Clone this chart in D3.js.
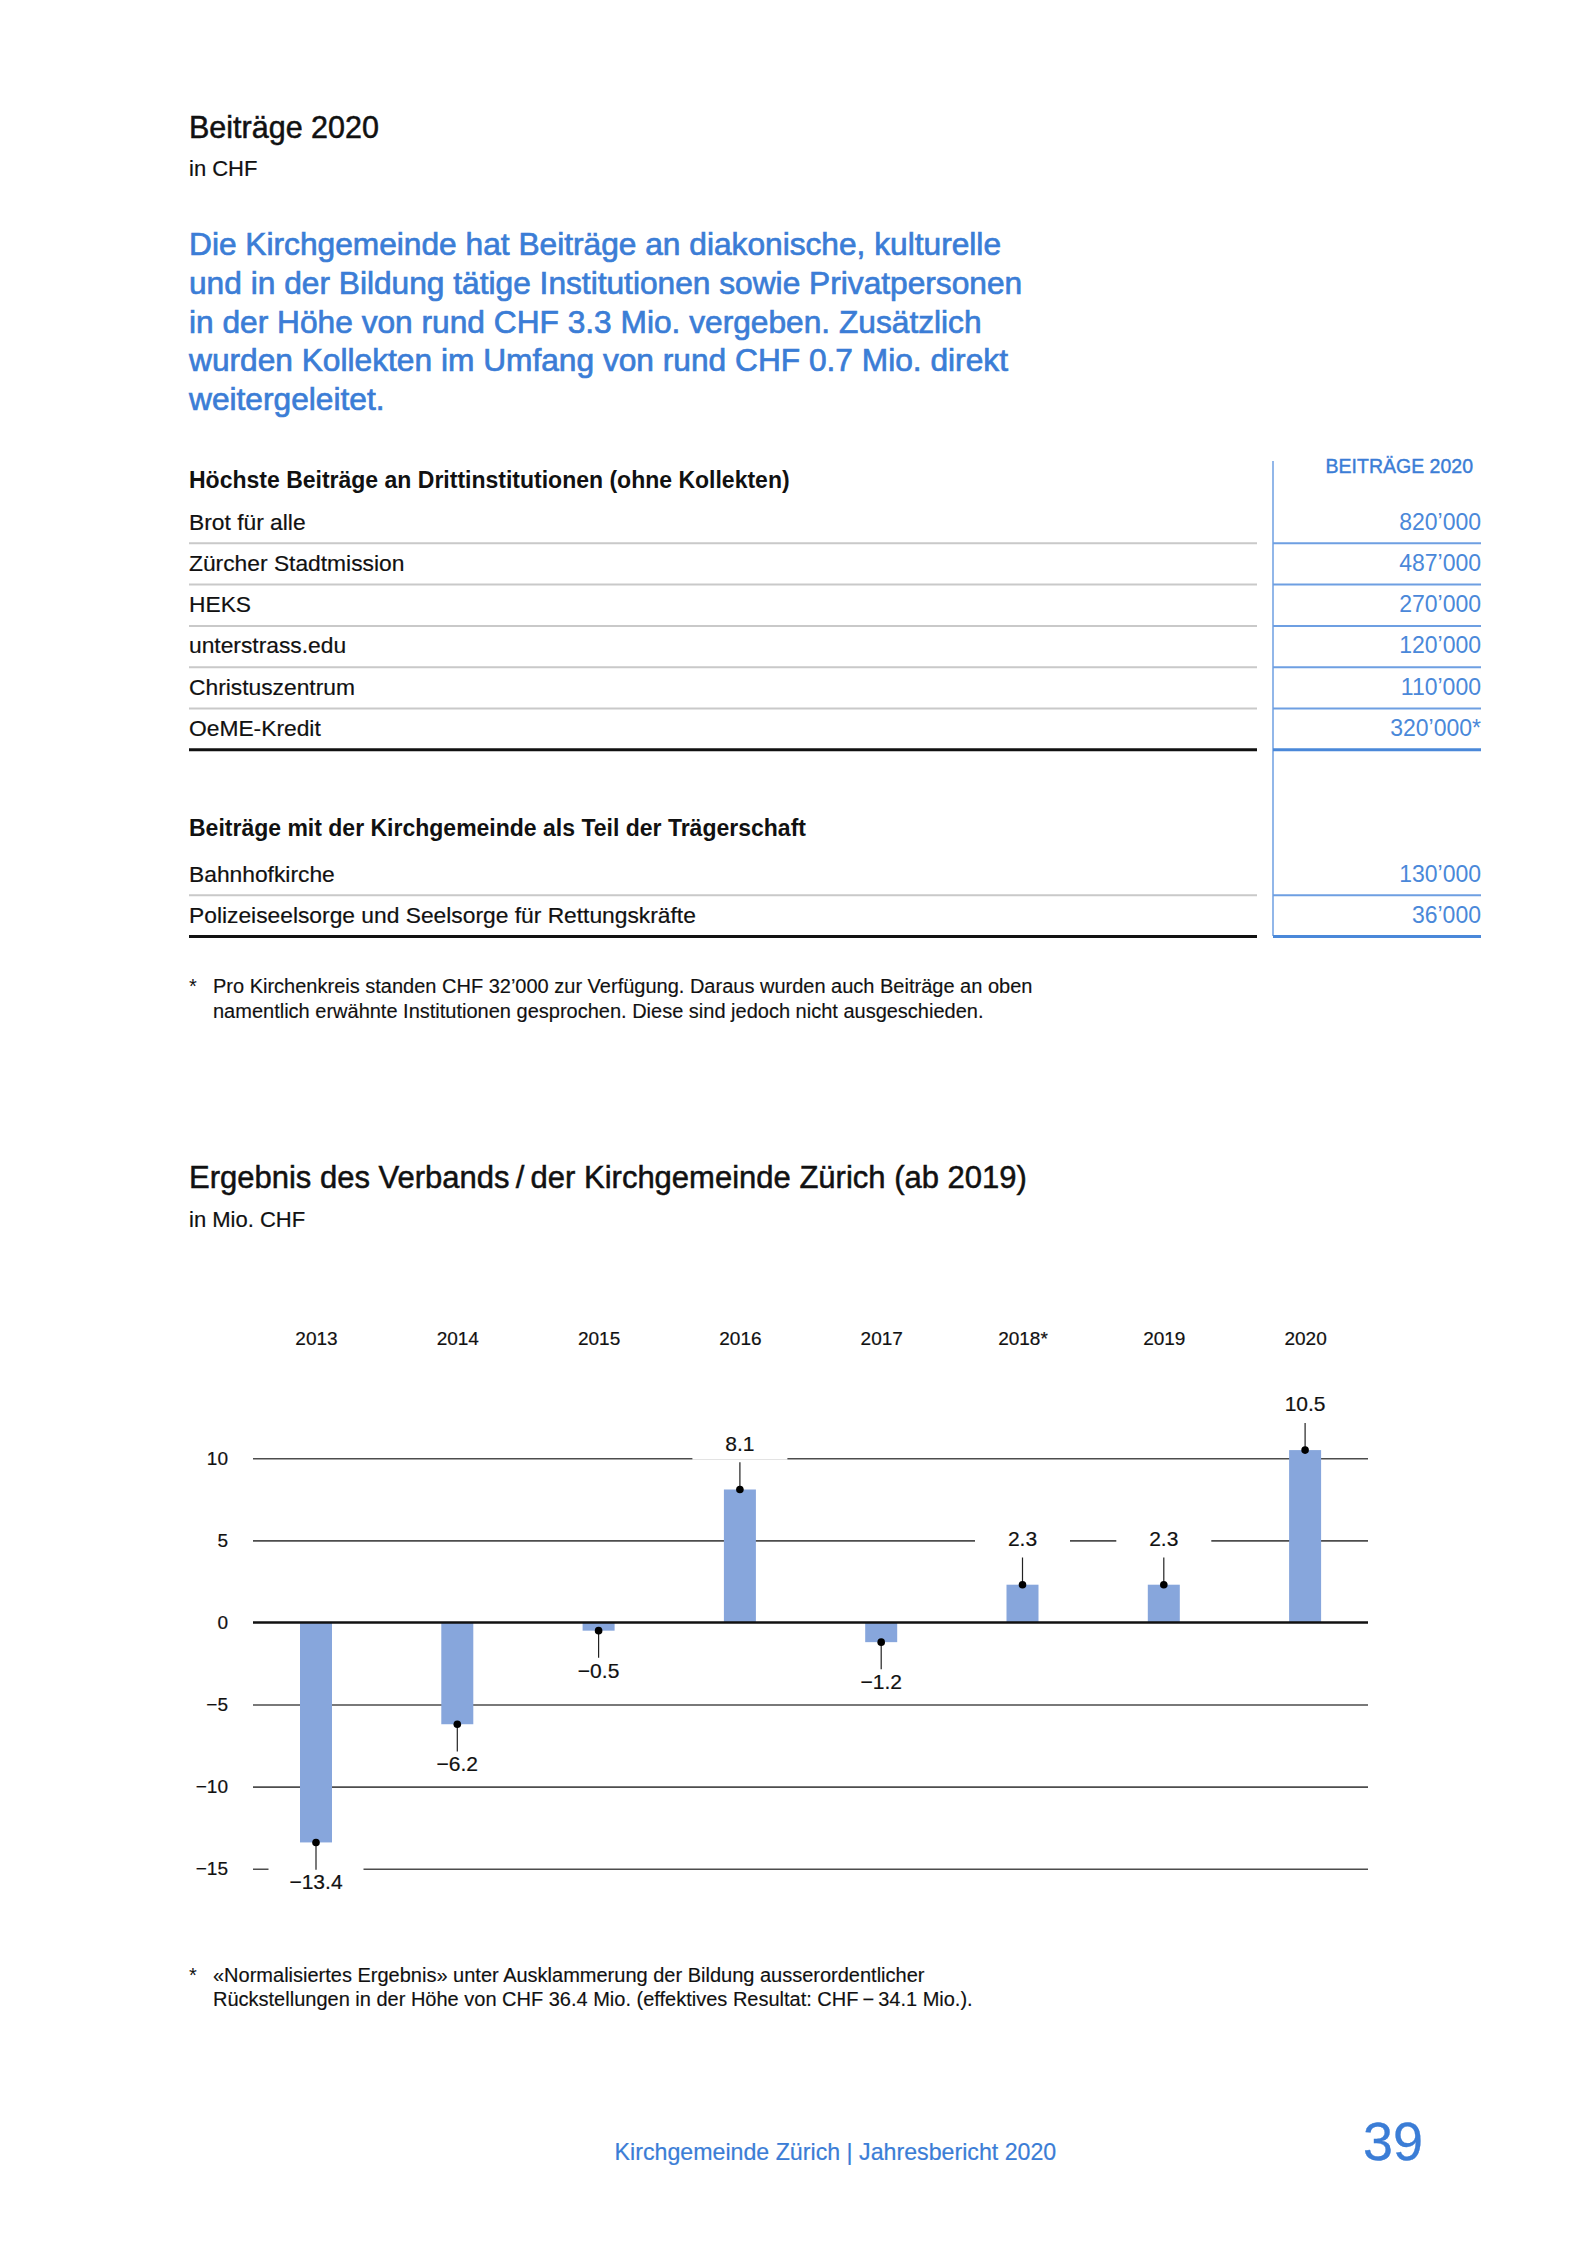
<!DOCTYPE html>
<html>
<head>
<meta charset="utf-8">
<script src="https://cdn.jsdelivr.net/npm/d3@7"></script>
<style>
  html, body { margin: 0; padding: 0; background: #fff; }
  svg { display: block; font-family: "Liberation Sans", Arial, Helvetica, sans-serif; }
</style>
</head>
<body>
<svg id="page" width="1575" height="2244"></svg>
<script>
// ---------------- DATA ----------------
const introLines = [
  "Die Kirchgemeinde hat Beiträge an diakonische, kulturelle",
  "und in der Bildung tätige Institutionen sowie Privatpersonen",
  "in der Höhe von rund CHF 3.3 Mio. vergeben. Zusätzlich",
  "wurden Kollekten im Umfang von rund CHF 0.7 Mio. direkt",
  "weitergeleitet."
];
const thirdPartyNames = ["Brot für alle", "Zürcher Stadtmission", "HEKS", "unterstrass.edu", "Christuszentrum", "OeME-Kredit"];
const thirdPartyValues = [820000, 487000, 270000, 120000, 110000, 320000];
const thirdPartyMarks = ["", "", "", "", "", "*"];
const sponsorNames = ["Bahnhofkirche", "Polizeiseelsorge und Seelsorge für Rettungskräfte"];
const sponsorValues = [130000, 36000];
const footnote1 = [
  "Pro Kirchenkreis standen CHF 32’000 zur Verfügung. Daraus wurden auch Beiträge an oben",
  "namentlich erwähnte Institutionen gesprochen. Diese sind jedoch nicht ausgeschieden."
];
const years = ["2013", "2014", "2015", "2016", "2017", "2018*", "2019", "2020"];
const results = [-13.4, -6.2, -0.5, 8.1, -1.2, 2.3, 2.3, 10.5];
const yTicks = [-15, -10, -5, 0, 5, 10];
const footnote2 = [
  "«Normalisiertes Ergebnis» unter Ausklammerung der Bildung ausserordentlicher",
  "Rückstellungen in der Höhe von CHF 36.4 Mio. (effektives Resultat: CHF\u2009−\u200934.1 Mio.)."
];

// ---------------- STYLE ----------------
const BLUE = "#3b7dd6";
const BLUE_VAL = "#4a88d9";
const BLUE_LINE = "#6e9fe2";
const INK = "#111";
const BAR = "#87a6dc";
const LEFT = 189;

const svg = d3.select("#page");
svg.append("rect").attr("width", 1575).attr("height", 2244).attr("fill", "#fff");

function text(x, y, s, size, opts = {}) {
  const t = svg.append("text")
    .attr("x", x).attr("y", y)
    .attr("font-size", size)
    .attr("fill", opts.fill || INK)
    .attr("font-weight", opts.weight || "normal")
    .attr("text-anchor", opts.anchor || "start")
    .text(s);
  if (opts.stroke) t.attr("stroke", opts.fill || INK).attr("stroke-width", opts.stroke);
  return t;
}

// ---------------- TOP SECTION ----------------
text(LEFT, 138.3, "Beiträge 2020", 30.5, {stroke: 0.5});
text(LEFT, 176, "in CHF", 22, {stroke: 0.2});
svg.append("g").selectAll("text").data(introLines).join("text")
  .attr("x", LEFT).attr("y", (d, i) => 255 + i * 38.8)
  .attr("font-size", 31.7).attr("fill", BLUE)
  .attr("stroke", BLUE).attr("stroke-width", 0.7)
  .text(d => d);

// ---------------- TABLE ----------------
const fmtLocale = d3.formatLocale({decimal: ".", thousands: "’", grouping: [3], currency: ["", ""]});
const fmtCHF = fmtLocale.format(",d");
const LEFT_END = 1257, COL_X = 1273, RIGHT = 1481;

text(LEFT, 488, "Höchste Beiträge an Drittinstitutionen (ohne Kollekten)", 23, {weight: "bold"});
text(1473, 473.3, "BEITRÄGE 2020", 19.5, {fill: BLUE, anchor: "end", stroke: 0.4});

svg.append("line").attr("x1", COL_X).attr("x2", COL_X).attr("y1", 461).attr("y2", 936)
  .attr("stroke", BLUE_LINE).attr("stroke-width", 1.5);

function drawRows(names, values, marks, firstBaseline, step) {
  const g = svg.append("g");
  names.forEach((n, i) => {
    const yb = firstBaseline + i * step;
    const last = i === names.length - 1;
    g.append("text").attr("x", LEFT).attr("y", yb).attr("font-size", 22.8).attr("fill", INK)
      .attr("stroke", INK).attr("stroke-width", 0.2).text(n);
    g.append("text").attr("x", RIGHT).attr("y", yb).attr("font-size", 23).attr("fill", BLUE_VAL)
      .attr("text-anchor", "end").text(fmtCHF(values[i]) + (marks ? marks[i] : ""));
    const ys = yb + 13.8;
    g.append("line").attr("x1", LEFT).attr("x2", LEFT_END).attr("y1", ys).attr("y2", ys)
      .attr("stroke", last ? "#111" : "#c9c9c9").attr("stroke-width", last ? 3 : 2);
    g.append("line").attr("x1", COL_X).attr("x2", RIGHT).attr("y1", ys).attr("y2", ys)
      .attr("stroke", last ? "#4a88d9" : BLUE_LINE).attr("stroke-width", last ? 3 : 2);
  });
}
drawRows(thirdPartyNames, thirdPartyValues, thirdPartyMarks, 529.5, 41.3);

text(LEFT, 836, "Beiträge mit der Kirchgemeinde als Teil der Trägerschaft", 23, {weight: "bold"});
drawRows(sponsorNames, sponsorValues, null, 881.5, 41.1);

text(LEFT, 993.3, "*", 20);
footnote1.forEach((l, i) => text(213, 993.3 + i * 25, l, 20, {stroke: 0.15}));

// ---------------- CHART ----------------
text(LEFT, 1188.3, "Ergebnis des Verbands\u2009/\u2009der Kirchgemeinde Zürich (ab 2019)", 31, {stroke: 0.5});
text(LEFT, 1227.3, "in Mio. CHF", 22, {stroke: 0.2});

const gridX0 = 253, gridX1 = 1368;
const x = d3.scalePoint().domain(years).range([316, 1305.1]);
const y = d3.scaleLinear().domain([-15, 10]).range([1868.7, 1458.3]);
const barW = 32;
const fmtVal = d3.format(".1f");

// gridlines + tick labels via axis
const yAxis = d3.axisLeft(y).tickValues(yTicks).tickSize(-(gridX1 - gridX0)).tickPadding(25)
  .tickFormat(d3.format("d"));
const gy = svg.append("g").attr("transform", `translate(${gridX0},0)`).call(yAxis);
gy.select(".domain").remove();
gy.selectAll(".tick line").attr("stroke", d => d === 0 ? "none" : "#4d4d4d").attr("stroke-width", 1.6);
gy.selectAll(".tick text").attr("font-size", 19).attr("fill", INK)
  .attr("stroke", INK).attr("stroke-width", 0.2)
  .attr("font-family", "\"Liberation Sans\", Arial, Helvetica, sans-serif");

// year labels via axis
const xAxis = d3.axisTop(x).tickSize(0).tickPadding(0);
const gx = svg.append("g").attr("transform", "translate(0,1345)").call(xAxis);
gx.select(".domain").remove();
gx.selectAll(".tick text").attr("font-size", 19).attr("fill", INK)
  .attr("stroke", INK).attr("stroke-width", 0.2)
  .attr("font-family", "\"Liberation Sans\", Arial, Helvetica, sans-serif");

// bars
svg.append("g").selectAll("rect").data(results).join("rect")
  .attr("x", (d, i) => x(years[i]) - barW / 2)
  .attr("width", barW)
  .attr("y", d => Math.min(y(d), y(0)))
  .attr("height", d => Math.abs(y(d) - y(0)))
  .attr("fill", BAR);

// zero line
svg.append("line").attr("x1", gridX0).attr("x2", gridX1).attr("y1", y(0)).attr("y2", y(0))
  .attr("stroke", "#111").attr("stroke-width", 2.6);

// value labels with white knock-out boxes
const lab = svg.append("g");
results.forEach((d, i) => {
  const cx = x(years[i]);
  const dotY = y(d);
  const pos = d >= 0;
  const baseline = pos ? dotY - 38.8 : dotY + 47;
  lab.append("rect").attr("x", cx - 47.5).attr("width", 95)
    .attr("y", baseline - 22).attr("height", 31).attr("fill", "#fff");
  const l1 = pos ? dotY - 27.2 : dotY;
  const l2 = pos ? dotY : dotY + 27.2;
  lab.append("line").attr("x1", cx).attr("x2", cx).attr("y1", l1).attr("y2", l2)
    .attr("stroke", "#222").attr("stroke-width", 1.2);
  lab.append("circle").attr("cx", cx).attr("cy", dotY).attr("r", 3.8).attr("fill", "#000");
  lab.append("text").attr("x", cx).attr("y", baseline).attr("text-anchor", "middle")
    .attr("font-size", 21).attr("fill", INK).attr("stroke", INK).attr("stroke-width", 0.2)
    .text(fmtVal(d));
});

// chart footnote
text(LEFT, 1981.7, "*", 20);
footnote2.forEach((l, i) => text(213, 1981.7 + i * 24, l, 20, {stroke: 0.15}));

// ---------------- FOOTER ----------------
text(614.6, 2160, "Kirchgemeinde Zürich | Jahresbericht 2020", 23.2, {fill: BLUE, stroke: 0.2});
text(1363, 2160, "39", 54, {fill: BLUE, stroke: 0.3});
</script>
</body>
</html>
